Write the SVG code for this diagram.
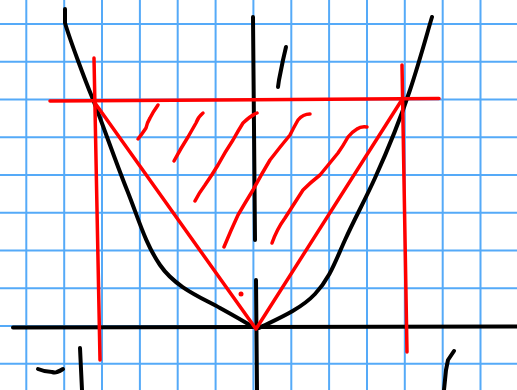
<svg xmlns="http://www.w3.org/2000/svg" width="517" height="390" viewBox="0 0 517 390">
<style>
.grid line{stroke:#55aaf8;stroke-width:2}
.ink{fill:none;stroke:#000;stroke-width:4;stroke-linecap:round;stroke-linejoin:round}
.red{fill:none;stroke:#ff0000;stroke-width:3.5;stroke-linecap:round;stroke-linejoin:round}
</style>
<rect width="517" height="390" fill="#fff"/>
<g id="grid" class="grid">
<line x1="26.3" y1="0" x2="26.3" y2="390"/>
<line x1="64.2" y1="0" x2="64.2" y2="390"/>
<line x1="102" y1="0" x2="102" y2="390"/>
<line x1="139.9" y1="0" x2="139.9" y2="390"/>
<line x1="177.7" y1="0" x2="177.7" y2="390"/>
<line x1="215.6" y1="0" x2="215.6" y2="390"/>
<line x1="253.4" y1="0" x2="253.4" y2="390"/>
<line x1="291.3" y1="0" x2="291.3" y2="390"/>
<line x1="329.1" y1="0" x2="329.1" y2="390"/>
<line x1="367" y1="0" x2="367" y2="390"/>
<line x1="404.8" y1="0" x2="404.8" y2="390"/>
<line x1="442.7" y1="0" x2="442.7" y2="390"/>
<line x1="480.5" y1="0" x2="480.5" y2="390"/>
<line x1="0" y1="24" x2="517" y2="24"/>
<line x1="0" y1="61.75" x2="517" y2="61.75"/>
<line x1="0" y1="99.5" x2="517" y2="99.5"/>
<line x1="0" y1="137.25" x2="517" y2="137.25"/>
<line x1="0" y1="175" x2="517" y2="175"/>
<line x1="0" y1="212.75" x2="517" y2="212.75"/>
<line x1="0" y1="250.5" x2="517" y2="250.5"/>
<line x1="0" y1="288.25" x2="517" y2="288.25"/>
<line x1="0" y1="326" x2="517" y2="326"/>
<line x1="0" y1="363.75" x2="517" y2="363.75"/>
</g>
<g id="axes" class="ink">
<path d="M13 327.5 L517 326.5"/>
<path d="M253 17 L255 240"/>
<path d="M256 280 L257 390"/>
</g>
<g id="parabola" class="ink">
<path d="M65 9 L65 23 C70 40 85 80 92 97 S115 160 127 190 S145 243 160 265 S200 297 220 308 S245 322 253 327"/>
<path d="M259 328 C275 320 300 310 315 294 S335 262 345 240 S365 200 375 178 S400 120 410 90 S428 30 432 17"/>
</g>
<g id="labels" class="ink">
<path d="M286 47 L283 60 L281 70 L279 80 L278 87"/>
<path d="M38 369 Q45 372 52 372 Q55 373 57 372 Q60 371 63 369"/>
<path d="M80 348 L82 390"/>
<path d="M454 351 L448 360 L446 370 L444 390"/>
</g>
<g id="red-lines" class="red">
<path d="M50 101 L439 98.5"/>
<path d="M94 58 L100 360"/>
<path d="M402 65 L407 352"/>
<path d="M95 103 L256 329 L403 98"/>
</g>
<g id="hatching" class="red">
<path d="M158 105 Q153 112 150 118 Q147 123 146 128 Q142 134 138 139"/>
<path d="M203 113 Q198 117 196 123 Q192 130 188 137 Q181 148 174 161"/>
<path d="M257 113 Q250 116 243 123 Q238 131 233 140 Q225 152 218 165 Q212 175 205 185 Q199 193 195 201"/>
<path d="M310 114 Q303 114 298 120 Q294 127 290 135 Q280 147 270 160 Q261 175 253 190 Q245 203 238 215 Q231 230 224 247"/>
<path d="M367 127 Q361 126 357 129 Q352 132 348 137 Q343 146 338 153 Q329 164 320 175 Q311 182 303 190 Q294 204 285 218 Q277 229 272 243"/>
<circle cx="241" cy="294" r="2.5" fill="#ff0000" stroke="none"/>
</g>
</svg>
